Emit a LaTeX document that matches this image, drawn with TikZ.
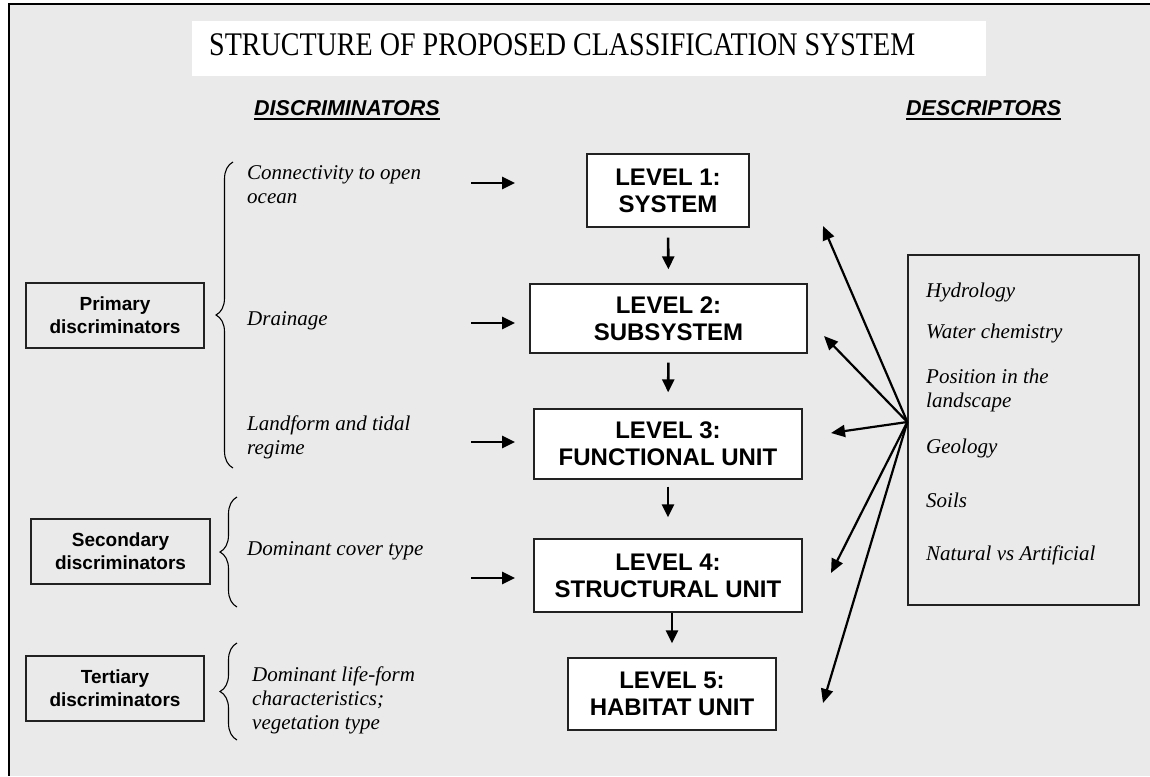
\documentclass[tikz,border=0pt]{standalone}
\usepackage{fontspec}
\usepackage{graphicx}
\setmainfont{Liberation Serif}
\setsansfont{Liberation Sans}
\usepackage{tikz}
\usetikzlibrary{arrows.meta,positioning,decorations.pathreplacing}

\definecolor{panelgrey}{HTML}{EAEAEA}
\definecolor{edgegrey}{HTML}{222222}

\tikzset{
  levelbox/.style={draw=edgegrey, line width=1.3pt, fill=white, inner sep=0pt, align=center,
    font=\sffamily\bfseries\fontsize{24}{27}\selectfont},
  discbox/.style={draw=edgegrey, line width=1.3pt, inner sep=0pt, minimum width=178pt,
    minimum height=65pt, align=center, font=\sffamily\bfseries\fontsize{19}{23}\selectfont},
  itemtext/.style={anchor=base west, align=left, inner sep=0pt, font=\itshape\fontsize{21}{24}\selectfont},
  heading/.style={anchor=base west, inner sep=0pt, font=\sffamily\bfseries\itshape\fontsize{21.5}{24}\selectfont},
  arr/.style={line width=2.6pt, -{Triangle[length=13pt,width=12pt]}},
  descarr/.style={line width=2.2pt, -{Triangle[length=14pt,width=12pt]}},
  brc/.style={decorate, decoration={brace, amplitude=17pt}, line width=1.1pt}
}

\begin{document}
\begin{tikzpicture}[x=1pt,y=-1pt]
\useasboundingbox (0,0) rectangle (1150,776);

\fill[panelgrey] (9,4) rectangle (1150,776);
\draw[line width=1.5pt] (1150,4) -- (9,4) -- (9,776);

\fill[white] (192,21) rectangle (986,76);
\node[anchor=base west, inner sep=0pt, font=\fontsize{33}{36}\selectfont] (title) at (209,56)
  {\scalebox{0.85}[1]{STRUCTURE OF PROPOSED CLASSIFICATION SYSTEM}};

\node[heading] (disc) at (254,115) {DISCRIMINATORS};
\node[heading] (desc) at (906,115) {DESCRIPTORS};
\draw[line width=1.7pt] ([yshift=-4pt]disc.base west) -- ([yshift=-4pt]disc.base east);
\draw[line width=1.7pt] ([yshift=-4pt]desc.base west) -- ([yshift=-4pt]desc.base east);

\node[levelbox, minimum width=162pt, minimum height=73pt] (L1) at (668,190.5) {LEVEL 1:\\SYSTEM};
\node[levelbox, minimum width=277pt, minimum height=69pt] (L2) at (668.5,318.5) {LEVEL 2:\\SUBSYSTEM};
\node[levelbox, minimum width=268pt, minimum height=70pt] (L3) at (668,444) {LEVEL 3:\\FUNCTIONAL UNIT};
\node[levelbox, minimum width=268pt, minimum height=73pt] (L4) at (668,575.5) {LEVEL 4:\\STRUCTURAL UNIT};
\node[levelbox, minimum width=208pt, minimum height=72pt] (L5) at (672,694) {LEVEL 5:\\HABITAT UNIT};

\draw[arr, shorten <=10pt, shorten >=14pt] (L1.south) -- (L2.north);
\draw[arr, shorten <=9pt, shorten >=16pt] (L2.south) -- (L3.north);
\draw[arr, shorten <=7pt, shorten >=21pt] (L3.south) -- (L4.north);
\draw[arr, shorten >=14pt] (L4.south -| L5.north) -- (L5.north);

\node[discbox] (prim) at (115,315.5) {Primary\\discriminators};
\node[discbox, minimum width=179pt] (sec) at (120.5,551.5) {Secondary\\discriminators};
\node[discbox] (ter) at (115,688.5) {Tertiary\\discriminators};

\draw[brc] (233,468) -- (233,162);
\draw[brc] (237,607) -- (237,497);
\draw[brc] (237,740) -- (237,643);

\node[itemtext] (conn) at (247,203) {Connectivity to open\\ocean};
\node[itemtext] (drain) at (247,325) {Drainage};
\node[itemtext] (land) at (247,454) {Landform and tidal\\regime};
\node[itemtext] (cover) at (247,555) {Dominant cover type};
\node[itemtext] (life) at (252,729) {Dominant life-form\\characteristics;\\vegetation type};

\coordinate (in1) at (471,183);
\coordinate (in2) at (471,323);
\coordinate (in3) at (471,442);
\coordinate (in4) at (471,578);
\draw[arr] (in1) -- ++(44,0);
\draw[arr] (in2) -- ++(44,0);
\draw[arr] (in3) -- ++(44,0);
\draw[arr] (in4) -- ++(44,0);

\node[draw=edgegrey, line width=1.3pt, inner sep=0pt, minimum width=231pt, minimum height=350pt] (descbox) at (1023.5,430) {};
\node[itemtext] (hydro) at (926,297) {Hydrology};
\node[itemtext] (chem) at (926,338) {Water chemistry};
\node[itemtext] (posn) at (926,407) {Position in the\\landscape};
\node[itemtext] (geol) at (926,453) {Geology};
\node[itemtext] (soil) at (926,507) {Soils};
\node[itemtext] (nat) at (926,560) {Natural vs Artificial};

\coordinate (hub) at ([yshift=8pt]descbox.west);
\coordinate (d1) at (823,226);
\coordinate (d2) at (824,336);
\coordinate (d3) at (831,433);
\coordinate (d4) at (831,573);
\coordinate (d5) at (823,703);
\draw[descarr] (hub) -- (d1);
\draw[descarr] (hub) -- (d2);
\draw[descarr] (hub) -- (d3);
\draw[descarr] (hub) -- (d4);
\draw[descarr] (hub) -- (d5);
\end{tikzpicture}
\end{document}
